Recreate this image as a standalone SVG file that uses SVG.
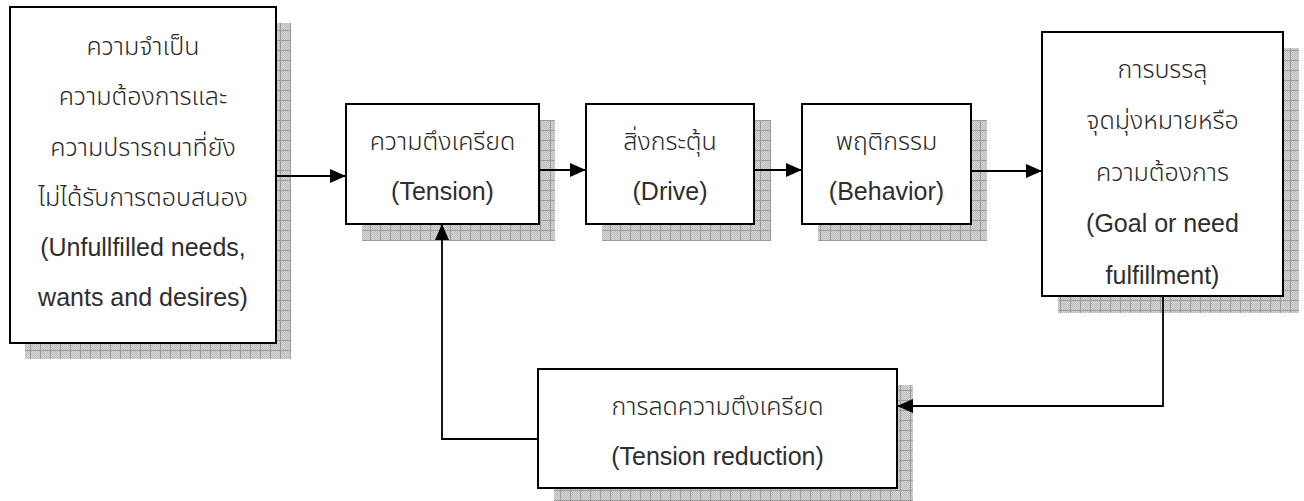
<svg xmlns="http://www.w3.org/2000/svg" width="1304" height="501" viewBox="0 0 1304 501">
<style>
.box{fill:#ffffff;stroke:#000000;stroke-width:2}
.shd{fill:url(#grid)}
.t{font-family:"Liberation Sans","Noto Sans Thai","Noto Sans",sans-serif;font-size:25px;fill:#2e2e2e;text-anchor:middle}
.th{font-size:25px;font-weight:300;fill:#2a2a2a}
.c{fill:none;stroke:#000000;stroke-width:1.8;marker-end:url(#arr)}
</style>
<defs>
<pattern id="dots" width="2" height="2" patternUnits="userSpaceOnUse">
<rect width="2" height="2" fill="#d6d6d6"/>
<rect width="1" height="1" fill="#bcbcbc"/>
<rect x="1" y="1" width="1" height="1" fill="#bcbcbc"/>
</pattern>
<pattern id="grid" width="10" height="10" patternUnits="userSpaceOnUse">
<rect width="10" height="10" fill="url(#dots)"/>
<path d="M0,0.5H10M0.5,0V10" stroke="#9c9c9c" stroke-width="1" fill="none"/>
</pattern>
<marker id="arr" markerWidth="16" markerHeight="14" refX="16" refY="7" orient="auto" markerUnits="userSpaceOnUse">
<path d="M0,0L16,7L0,14z" fill="#000000"/>
</marker>
</defs>

<g id="node-needs">
<rect class="shd" x="25" y="23" width="266" height="336"/>
<rect class="box" x="10" y="7" width="266" height="336"/>
<text class="t th" x="143" y="55">ความจำเป็น</text>
<text class="t th" x="143" y="105">ความต้องการและ</text>
<text class="t th" x="143" y="156">ความปรารถนาที่ยัง</text>
<text class="t th" x="143" y="206">ไม่ได้รับการตอบสนอง</text>
<text class="t" x="143" y="256">(Unfullfilled needs,</text>
<text class="t" x="143" y="306">wants and desires)</text>
</g>

<g id="node-tension">
<rect class="shd" x="362" y="120" width="193" height="121"/>
<rect class="box" x="346" y="104" width="193" height="120"/>
<text class="t th" x="442.5" y="150">ความตึงเครียด</text>
<text class="t" x="442.5" y="200">(Tension)</text>
</g>

<g id="node-drive">
<rect class="shd" x="602" y="120" width="169" height="121"/>
<rect class="box" x="586" y="104" width="168" height="120"/>
<text class="t th" x="670" y="150">สิ่งกระตุ้น</text>
<text class="t" x="670" y="200">(Drive)</text>
</g>

<g id="node-behavior">
<rect class="shd" x="818" y="120" width="169" height="121"/>
<rect class="box" x="802" y="104" width="169" height="120"/>
<text class="t th" x="886.5" y="150">พฤติกรรม</text>
<text class="t" x="886.5" y="200">(Behavior)</text>
</g>

<g id="node-goal">
<rect class="shd" x="1058" y="48" width="241" height="265"/>
<rect class="box" x="1042" y="32" width="241" height="264"/>
<text class="t th" x="1162.5" y="78">การบรรลุ</text>
<text class="t th" x="1162.5" y="129">จุดมุ่งหมายหรือ</text>
<text class="t th" x="1162.5" y="181">ความต้องการ</text>
<text class="t" x="1162.5" y="232">(Goal or need</text>
<text class="t" x="1162.5" y="284">fulfillment)</text>
</g>

<g id="node-reduction">
<rect class="shd" x="554" y="385" width="359" height="120"/>
<rect class="box" x="538" y="369" width="359" height="119"/>
<text class="t th" x="717.5" y="415">การลดความตึงเครียด</text>
<text class="t" x="717.5" y="465">(Tension reduction)</text>
</g>

<g id="connectors">
<path class="c" d="M276,176H346"/>
<path class="c" d="M539,170H586"/>
<path class="c" d="M754,170H802"/>
<path class="c" d="M971,171H1042"/>
<path class="c" d="M1163,296V406H897"/>
<path class="c" d="M538,439H442V224"/>
</g>
</svg>
